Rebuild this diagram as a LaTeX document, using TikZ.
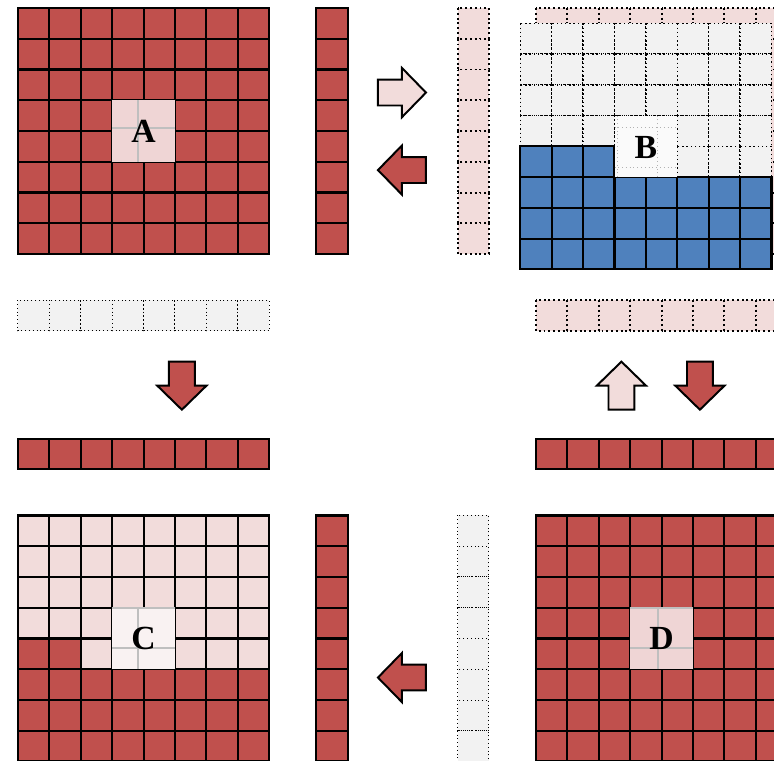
\documentclass[tikz,border=0pt]{standalone}
\usepackage{fontspec}
\setmainfont{Liberation Serif}

\definecolor{cred}{RGB}{192,80,77}
\definecolor{cpink}{RGB}{242,220,219}
\definecolor{cgray}{RGB}{242,242,242}
\definecolor{cblue}{RGB}{79,129,189}
\definecolor{hiA}{RGB}{239,213,213}
\definecolor{hiC}{RGB}{249,242,242}
\definecolor{hiB}{RGB}{250,250,250}

\tikzset{
	redcell/.style={fill=cred, draw=black, line width=1.5pt},
	pinkcell/.style={fill=cpink, draw=black, line width=1.5pt},
	bluecell/.style={fill=cblue, draw=black, line width=1.5pt},
	graydot/.style={fill=cgray, draw=black, dotted, line width=0.7pt},
	pinkdot/.style={fill=cpink, draw=black, dotted, line width=1.4pt},
	hiline/.style={draw=black!25, line width=1pt},
	lbl/.style={font=\fontsize{24}{28}\selectfont\bfseries, inner sep=0pt},
	fatarrow/.pic={
		\draw[line width=1.4pt, pic actions] (-0.765,0.42) -- (0,0.42) -- (0,0.8) -- (0.765,0) -- (0,-0.8) -- (0,-0.42) -- (-0.765,-0.42) -- cycle;
	}
}

\begin{document}
\begin{tikzpicture}[x=0.785cm, y=0.769cm]
	\useasboundingbox (-0.573,0.26) rectangle (24.08,-24.46);
	\clip (-0.573,0.26) rectangle (24.08,-24.46);

	% A and its column
	\foreach \i in {0,...,7}
		\foreach \j in {0,...,7}
			\draw[redcell] (\i,-\j) rectangle ++(1,-1);
	\fill[hiA] (3,-3) rectangle (5,-5);
	\draw[hiline] (3,-3) grid (5,-5);
	\node[lbl] (A) at (4,-4) {A};
	\foreach \j in {0,...,7}
		\draw[redcell] (9.5,-\j) rectangle ++(1,-1);

	\pic[fill=cpink] at (12.23,-2.75) {fatarrow};
	\pic[fill=cred, rotate=180] at (12.23,-5.27) {fatarrow};

	% B, with the pink layer behind it
	\foreach \j in {0,...,7}
		\draw[pinkdot] (14,-\j) rectangle ++(1,-1);
	\foreach \i in {0,...,7}
		\foreach \j in {0,...,7}
			\draw[pinkdot] (16.5+\i,-\j) rectangle ++(1,-1);
	\foreach \i in {0,...,7}
		\foreach \j in {0,...,4}
			\draw[graydot, line width=1pt] (16+\i,-0.5-\j) rectangle ++(1,-1);
	\foreach \i in {0,...,7}
		\foreach \j in {5,6,7}
			\draw[bluecell] (16+\i,-0.5-\j) rectangle ++(1,-1);
	\foreach \i in {0,1,2}
		\draw[bluecell] (16+\i,-4.5) rectangle ++(1,-1);
	\fill[hiB] (19,-3.5) rectangle (21,-5.5);
	\draw[draw=black!30, dotted, line width=0.7pt] (19,-3.5) grid (21,-5.5);
	\node[lbl] (B) at (20,-4.55) {B};

	% rows in the middle
	\foreach \i in {0,...,7} {
		\draw[graydot] (\i,-9.5) rectangle ++(1,-1);
		\draw[redcell] (\i,-14) rectangle ++(1,-1);
		\draw[pinkdot] (16.5+\i,-9.5) rectangle ++(1,-1);
		\draw[redcell] (16.5+\i,-14) rectangle ++(1,-1);
	}
	\pic[fill=cred, rotate=-90] at (5.22,-12.28) {fatarrow};
	\pic[fill=cpink, rotate=90] at (19.22,-12.28) {fatarrow};
	\pic[fill=cred, rotate=-90] at (21.72,-12.28) {fatarrow};

	% C and its column
	\foreach \i in {0,...,7}
		\foreach \j in {0,...,4}
			\draw[pinkcell] (\i,-16.5-\j) rectangle ++(1,-1);
	\foreach \i in {0,...,7}
		\foreach \j in {5,6,7}
			\draw[redcell] (\i,-16.5-\j) rectangle ++(1,-1);
	\draw[redcell] (0,-20.5) rectangle ++(1,-1);
	\draw[redcell] (1,-20.5) rectangle ++(1,-1);
	\fill[hiC] (3,-19.5) rectangle (5,-21.5);
	\draw[hiline] (3,-19.5) grid (5,-21.5);
	\node[lbl] (C) at (4,-20.5) {C};
	\foreach \j in {0,...,7}
		\draw[redcell] (9.5,-16.5-\j) rectangle ++(1,-1);

	\pic[fill=cred, rotate=180] at (12.23,-21.77) {fatarrow};

	% D and the gray column
	\foreach \j in {0,...,7}
		\draw[graydot] (14,-16.5-\j) rectangle ++(1,-1);
	\foreach \i in {0,...,7}
		\foreach \j in {0,...,7}
			\draw[redcell] (16.5+\i,-16.5-\j) rectangle ++(1,-1);
	\fill[hiA] (19.5,-19.5) rectangle (21.5,-21.5);
	\draw[hiline] (19.5,-19.5) grid (21.5,-21.5);
	\node[lbl] (D) at (20.5,-20.5) {D};
\end{tikzpicture}
\end{document}
